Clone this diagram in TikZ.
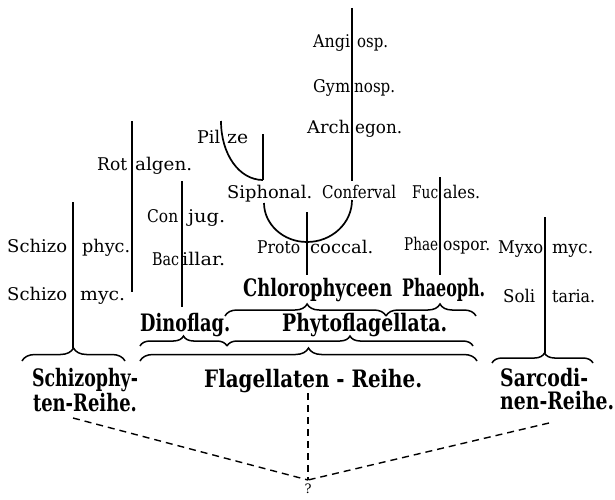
\documentclass[tikz,border=0pt]{standalone}
\usepackage{fontspec}
\newfontfamily\dvs{DejaVu Serif}
\usetikzlibrary{decorations.pathreplacing}
\newcommand\sw[2]{\resizebox{#1pt}{\height}{#2}}
\tikzset{
  sm/.style={inner sep=0pt, font=\dvs\fontsize{17.5}{21}\selectfont, anchor=base west},
  lg/.style={inner sep=0pt, font=\dvs\bfseries\fontsize{24}{23}\selectfont, anchor=base west},
  ln/.style={line width=1.7pt},
  brc/.style={line width=1.5pt, decorate, decoration={brace, amplitude=#1}},
  dsh/.style={line width=1.4pt, dash pattern=on 7pt off 5pt}
}
\begin{document}
\begin{tikzpicture}[x=1pt,y=-1pt]
\useasboundingbox (0,0) rectangle (615,500);
% small labels
\node[sm] (angiL) at (313,48) {\sw{37}{Angi}};
\node[sm] (angiR) at (357,48) {\sw{31}{osp.}};
\node[sm] (gymL) at (313,93) {\sw{37}{Gym}};
\node[sm] (gymR) at (354,93) {\sw{41}{nosp.}};
\node[sm] (archL) at (307,133) {\sw{43}{Arch}};
\node[sm] (archR) at (355,133) {\sw{47}{egon.}};
\node[sm] (pilL) at (197,143) {\sw{23}{Pil}};
\node[sm] (pilR) at (227,143) {\sw{21}{ze}};
\node[sm] (rotL) at (97,170) {\sw{30}{Rot}};
\node[sm] (rotR) at (135,170) {\sw{57}{algen.}};
\node[sm] (siph) at (227,198) {\sw{85}{Siphonal.}};
\node[sm] (conf) at (322,198) {\sw{74}{Conferval}};
\node[sm] (fucL) at (412,198) {\sw{26}{Fuc}};
\node[sm] (fucR) at (443,198) {\sw{37}{ales.}};
\node[sm] (conL) at (147,222) {\sw{31}{Con}};
\node[sm] (conR) at (188,222) {\sw{37}{jug.}};
\node[sm] (bacL) at (152,265) {\sw{27}{Bac}};
\node[sm] (bacR) at (182,265) {\sw{43}{illar.}};
\node[sm] (sp1L) at (7,252) {\sw{60}{Schizo}};
\node[sm] (sp1R) at (82,252) {\sw{48}{phyc.}};
\node[sm] (sm1L) at (7,300) {\sw{60}{Schizo}};
\node[sm] (sm1R) at (80,300) {\sw{45}{myc.}};
\node[sm] (proL) at (257,253) {\sw{43}{Proto}};
\node[sm] (proR) at (310,253) {\sw{63}{coccal.}};
\node[sm] (phL) at (404,250) {\sw{34}{Phae}};
\node[sm] (phR) at (443,250) {\sw{47}{ospor.}};
\node[sm] (myL) at (498,253) {\sw{45}{Myxo}};
\node[sm] (myR) at (552,253) {\sw{41}{myc.}};
\node[sm] (soL) at (503,302) {\sw{32}{Soli}};
\node[sm] (soR) at (552,302) {\sw{43}{taria.}};
% large labels
\node[lg] (chl) at (243,296) {\sw{149}{Chlorophyceen}};
\node[lg] (pha) at (402,296) {\sw{83}{Phaeoph.}};
\node[lg] (dino) at (140,331) {\sw{90}{Dinoflag.}};
\node[lg] (phyt) at (282,331) {\sw{165}{Phytoflagellata.}};
\node[lg, align=center, anchor=north] (sch) at (85,368) {\sw{106}{Schizophy-}\\\sw{104}{ten-Reihe.}};
\node[lg] (flag) at (204,387) {\sw{218}{Flagellaten - Reihe.}};
\node[lg, align=left, anchor=north west] (sar) at (500,368) {\sw{88}{Sarcodi-}\\\sw{114}{nen-Reihe.}};
\node[inner sep=0pt, font=\dvs\fontsize{13}{14}\selectfont] (q) at (308,489) {?};
% coordinates
\coordinate (m1) at (352,8);   \coordinate (m2) at (352,181);
\coordinate (p1) at (263,134); \coordinate (p2) at (263,180);
\coordinate (pc) at (221,121);
\coordinate (a1) at (264,203); \coordinate (ab) at (307,242); \coordinate (a2) at (352,200);
\coordinate (pr1) at (307,212); \coordinate (pr2) at (307,275);
\coordinate (f1) at (440,177); \coordinate (f2) at (440,275);
\coordinate (r1) at (132,121); \coordinate (r2) at (132,292);
\coordinate (c1) at (182,181); \coordinate (c2) at (182,307);
\coordinate (s1) at (73,202);  \coordinate (s2) at (73,348);
\coordinate (y1) at (545,217); \coordinate (y2) at (545,353);
\coordinate (d0) at (308,393); \coordinate (dl) at (73,418); \coordinate (dr) at (549,423);
\coordinate (qt) at (308,480);
% lines
\draw[ln] (m1) -- (m2);
\draw[ln] (p1) -- (p2);
\draw[ln] (pc) .. controls (221,154) and (239,180) .. (p2);
\draw[ln] (a1) .. controls (264,224) and (283,242) .. (ab) .. controls (332,242) and (352,223) .. (a2);
\draw[ln] (pr1) -- (pr2);
\draw[ln] (f1) -- (f2);
\draw[ln] (r1) -- (r2);
\draw[ln] (c1) -- (c2);
\draw[ln] (s1) -- (s2);
\draw[ln] (y1) -- (y2);
% braces
\draw[brc=13pt] (22,361) -- (125,361);
\draw[brc=13pt] (140,361) -- (477,361);
\draw[brc=10pt] (140,346) -- (227,346);
\draw[brc=10pt] (227,346) -- (473,346);
\draw[brc=12pt, decoration={aspect=0.51}] (225,316) -- (386,316);
\draw[brc=12pt, decoration={aspect=0.6}] (386,316) -- (476,316);
\draw[brc=10pt, decoration={aspect=0.52}] (492,363) -- (593,363);
% dashed
\draw[dsh] (d0) -- (qt);
\draw[dsh] (dl) -- (qt);
\draw[dsh] (dr) -- (qt);
\end{tikzpicture}
\end{document}
